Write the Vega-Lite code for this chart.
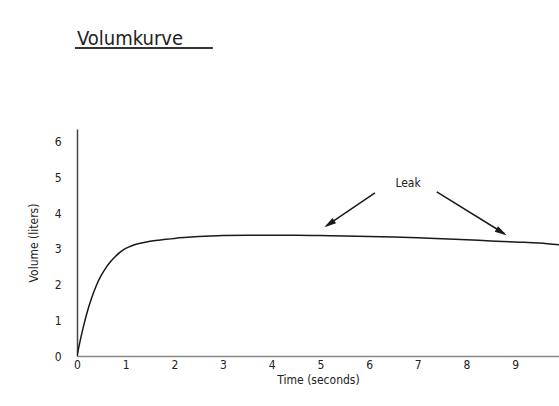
{
  "$schema": "https://vega.github.io/schema/vega-lite/v6.json",
  "width": 482,
  "height": 227,
  "autosize": {"type": "none"},
  "padding": {"left": 77, "top": 129, "right": 0, "bottom": 50},
  "background": "white",
  "config": {
    "view": {"stroke": null},
    "font": "DejaVu Sans Condensed, sans-serif"
  },
  "title": {
    "text": "Volumkurve",
    "anchor": "start",
    "frame": "group",
    "fontSize": 20,
    "fontWeight": "normal",
    "color": "#222",
    "font": "DejaVu Sans Condensed, sans-serif",
    "baseline": "alphabetic",
    "offset": -18
  },
  "datasets": {
    "curve": [
      {"x": 0, "y": 0}, {"x": 0.05, "y": 0.33}, {"x": 0.1, "y": 0.64}, {"x": 0.15, "y": 0.92},
      {"x": 0.2, "y": 1.18}, {"x": 0.3, "y": 1.62}, {"x": 0.4, "y": 1.98}, {"x": 0.5, "y": 2.26},
      {"x": 0.6, "y": 2.48}, {"x": 0.7, "y": 2.66}, {"x": 0.8, "y": 2.8}, {"x": 0.9, "y": 2.92},
      {"x": 1.0, "y": 3.01}, {"x": 1.1, "y": 3.07}, {"x": 1.2, "y": 3.12}, {"x": 1.35, "y": 3.17},
      {"x": 1.5, "y": 3.21}, {"x": 1.75, "y": 3.25}, {"x": 2.0, "y": 3.29},
      {"x": 2.5, "y": 3.34}, {"x": 3.0, "y": 3.37}, {"x": 3.5, "y": 3.38}, {"x": 4.0, "y": 3.38},
      {"x": 4.5, "y": 3.38}, {"x": 5.0, "y": 3.37}, {"x": 5.5, "y": 3.36}, {"x": 6.0, "y": 3.34},
      {"x": 6.5, "y": 3.33}, {"x": 7.0, "y": 3.31}, {"x": 7.5, "y": 3.28}, {"x": 8.0, "y": 3.25},
      {"x": 8.5, "y": 3.22}, {"x": 9.0, "y": 3.19}, {"x": 9.5, "y": 3.16}, {"x": 9.9, "y": 3.11}
    ],
    "annotations": [
      {"kind": "arrow", "x": 6.12, "y": 4.56, "x2": 5.12, "y2": 3.64},
      {"kind": "arrow", "x": 7.39, "y": 4.59, "x2": 8.78, "y2": 3.42},
      {"kind": "headA", "x": 5.2, "y": 3.71},
      {"kind": "headB", "x": 8.7, "y": 3.48},
      {"kind": "label", "x": 6.8, "y": 4.84, "text": "Leak"},
      {"kind": "underline", "x": -0.04, "x2": 2.79, "y": 8.615}
    ]
  },
  "layer": [
    {
      "data": {"name": "curve"},
      "mark": {"type": "line", "interpolate": "monotone", "color": "#1a1a1a", "strokeWidth": 1.5, "clip": true}
    },
    {
      "data": {"name": "annotations"},
      "transform": [{"filter": "datum.kind == 'arrow'"}],
      "mark": {"type": "rule", "color": "#1a1a1a", "strokeWidth": 1.5},
      "encoding": {"x2": {"field": "x2"}, "y2": {"field": "y2"}}
    },
    {
      "data": {"name": "annotations"},
      "transform": [{"filter": "datum.kind == 'headA'"}],
      "mark": {"type": "point", "shape": "M0,-1L0.45,0.7L-0.45,0.7Z", "filled": true, "color": "#1a1a1a", "opacity": 1, "size": 200, "angle": 236}
    },
    {
      "data": {"name": "annotations"},
      "transform": [{"filter": "datum.kind == 'headB'"}],
      "mark": {"type": "point", "shape": "M0,-1L0.45,0.7L-0.45,0.7Z", "filled": true, "color": "#1a1a1a", "opacity": 1, "size": 200, "angle": 122}
    },
    {
      "data": {"name": "annotations"},
      "transform": [{"filter": "datum.kind == 'label'"}],
      "mark": {"type": "text", "fontSize": 12, "color": "#222", "align": "center", "baseline": "middle", "font": "DejaVu Sans Condensed, sans-serif"},
      "encoding": {"text": {"field": "text"}}
    },
    {
      "data": {"name": "annotations"},
      "transform": [{"filter": "datum.kind == 'underline'"}],
      "mark": {"type": "rule", "color": "#333", "strokeWidth": 2},
      "encoding": {"x2": {"field": "x2"}}
    }
  ],
  "encoding": {
    "x": {
      "field": "x", "type": "quantitative",
      "scale": {"domain": [0, 9.9], "nice": false, "zero": false},
      "axis": {
        "values": [0, 1, 2, 3, 4, 5, 6, 7, 8, 9, 10],
        "title": "Time (seconds)",
        "grid": false, "ticks": false,
        "domainColor": "#8a8a8a", "domainWidth": 1.5,
        "labelFlush": false, "labelOverlap": false, "labelBound": false,
        "labelFontSize": 12, "labelColor": "#222", "labelPadding": 3,
        "titleFontSize": 12, "titleFontWeight": "normal", "titleColor": "#222", "titlePadding": 4,
        "labelFont": "DejaVu Sans Condensed, sans-serif",
        "titleFont": "DejaVu Sans Condensed, sans-serif"
      }
    },
    "y": {
      "field": "y", "type": "quantitative",
      "scale": {"domain": [0, 6.35], "nice": false},
      "axis": {
        "values": [0, 1, 2, 3, 4, 5, 6],
        "title": "Volume (liters)",
        "grid": false, "ticks": false,
        "domainColor": "#444", "domainWidth": 1.5,
        "labelOverlap": false,
        "labelFontSize": 12, "labelColor": "#222", "labelPadding": 16,
        "titleFontSize": 12, "titleFontWeight": "normal", "titleColor": "#222", "titlePadding": 14,
        "labelFont": "DejaVu Sans Condensed, sans-serif",
        "titleFont": "DejaVu Sans Condensed, sans-serif"
      }
    }
  }
}
